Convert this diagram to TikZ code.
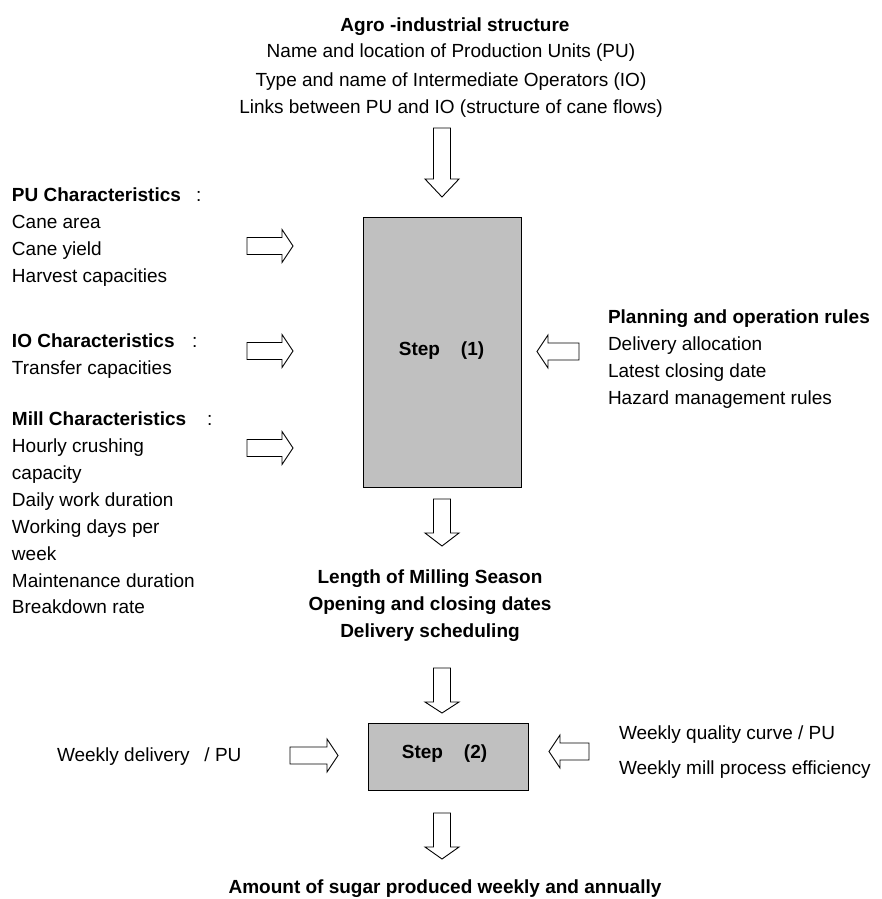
\documentclass[tikz,border=0pt]{standalone}
\usepackage{fontspec}
\setmainfont{Liberation Sans}
\definecolor{boxgray}{HTML}{C0C0C0}
\begin{document}
\begin{tikzpicture}[x=1pt,y=-1pt,
  every node/.style={inner sep=0pt, outer sep=0pt, font=\fontsize{19}{27}\selectfont},
  txt/.style={anchor=base west},
  btxtl/.style={anchor=base west, font=\fontsize{19}{27}\selectfont\bfseries},
  ctxt/.style={anchor=base},
  btxt/.style={anchor=base, font=\fontsize{19}{27}\selectfont\bfseries},
  stepbox/.style={draw=black, line width=1pt, fill=boxgray},
  blk/.style={draw=black, fill=white, line width=0.9pt, line join=miter},
  pics/rarr/.style 2 args={code={\draw[blk] (0,-8.5)--(#2,-8.5)--(#2,-16.5)--(#1,0)--(#2,16.5)--(#2,8.5)--(0,8.5)--cycle;}},
  pics/darr/.style 2 args={code={\draw[blk] (-8.5,0)--(8.5,0)--(8.5,#2)--(17,#2)--(0,#1)--(-17,#2)--(-8.5,#2)--cycle;}}
]
\useasboundingbox (0,0) rectangle (881,899);

% top block
\node[btxt] (agro) at (455,32) {Agro -industrial structure};
\node[ctxt] (agro1) at (451,58) {Name and location of Production Units (PU)};
\node[ctxt] (agro2) at (451,86) {Type and name of Intermediate Operators (IO)};
\node[ctxt] (agro3) at (451,113) {Links between PU and IO (structure of cane flows)};

% boxes
\node[stepbox, minimum width=158pt, minimum height=270pt] (s1) at (442,352) {};
\node[btxt] (s1t) at (441.5,355) {Step\hspace{1.1em}(1)};
\node[stepbox, minimum width=160pt, minimum height=67pt] (s2) at (448,756.5) {};
\node[btxt] (s2t) at (444.5,758) {Step\hspace{1.1em}(2)};

% left blocks
\node[btxtl] (pu) at (12,201) {PU Characteristics};
\node[txt] (puc) at (196,201) {:};
\node[txt] (pu1) at (12,228) {Cane area};
\node[txt] (pu2) at (12,255) {Cane yield};
\node[txt] (pu3) at (12,282) {Harvest capacities};

\node[btxtl] (io) at (12,347) {IO Characteristics};
\node[txt] (ioc) at (192,347) {:};
\node[txt] (io1) at (12,374) {Transfer capacities};

\node[btxtl] (mill) at (12,425) {Mill Characteristics};
\node[txt] (millc) at (207,425) {:};
\node[txt] (m1) at (12,452) {Hourly crushing};
\node[txt] (m2) at (12,479) {capacity};
\node[txt] (m3) at (12,506) {Daily work duration};
\node[txt] (m4) at (12,533) {Working days per};
\node[txt] (m5) at (12,560) {week};
\node[txt] (m6) at (12,587) {Maintenance duration};
\node[txt] (m7) at (12,613) {Breakdown rate};

% right block
\node[btxtl] (plan) at (608,323) {Planning and operation rules};
\node[txt] (p1) at (608,350) {Delivery allocation};
\node[txt] (p2) at (608,377) {Latest closing date};
\node[txt] (p3) at (608,404) {Hazard management rules};

% middle output
\node[btxt] (o1) at (430,583) {Length of Milling Season};
\node[btxt] (o2) at (430,610) {Opening and closing dates};
\node[btxt] (o3) at (430,637) {Delivery scheduling};

% step 2 inputs
\node[txt] (wd) at (57,761) {Weekly delivery\hspace{0.5em} / PU};
\node[txt] (wq) at (619,739) {Weekly quality curve / PU};
\node[txt] (wm) at (619,774) {Weekly mill process efficiency};

% bottom
\node[btxt] (out) at (445,893) {Amount of sugar produced weekly and annually};

% block arrows
\pic at (442,128) {darr={69}{51}};
\pic at (247,246) {rarr={46}{35}};
\pic at (247,351) {rarr={46}{35}};
\pic at (247,448) {rarr={46}{35}};
\pic[rotate=180] at (579,351.5) {rarr={42}{31}};
\pic at (442,499) {darr={47}{34}};
\pic at (442,668) {darr={45}{34}};
\pic at (290,755.5) {rarr={48}{37}};
\pic[rotate=180] at (589,751.5) {rarr={40}{29}};
\pic at (442,813) {darr={46}{34}};
\end{tikzpicture}
\end{document}
